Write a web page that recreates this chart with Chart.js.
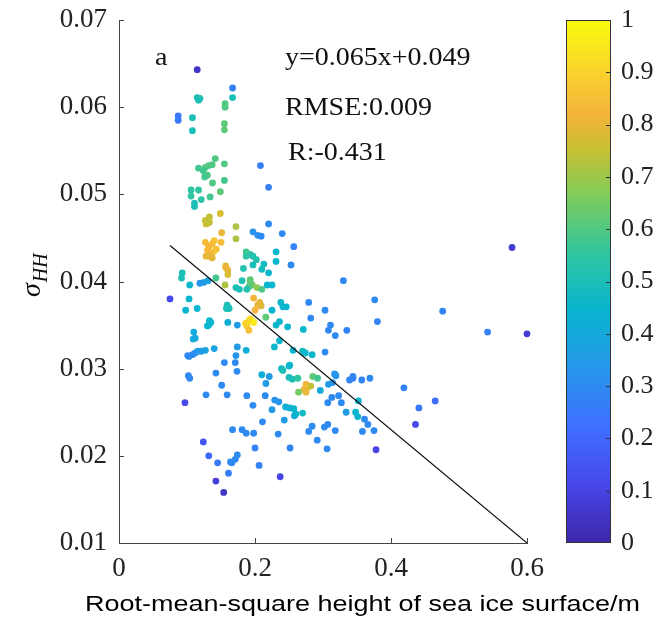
<!DOCTYPE html>
<html>
<head>
<meta charset="utf-8">
<script src="https://cdn.jsdelivr.net/npm/chart.js@4/dist/chart.umd.min.js"></script>
<style>
  html, body { margin: 0; padding: 0; background: #fff; }
  #wrap { width: 659px; height: 623px; }
</style>
</head>
<body>
<div id="wrap"><canvas id="scatter" width="659" height="623"></canvas></div>
<script>
// sample points: roughness (m), backscatter sigma_HH, colour value (0..1)
const roughX = [
  0.115, 0.167, 0.167, 0.115, 0.119, 0.117, 0.156, 0.156, 0.087, 0.087, 0.108, 0.108, 0.155, 0.155,
  0.1415, 0.117, 0.127, 0.132, 0.124, 0.130, 0.126, 0.137, 0.155, 0.208, 0.1375, 0.155, 0.220,
  0.106, 0.117, 0.106, 0.121, 0.134, 0.111, 0.111, 0.149, 0.149, 0.133,
  0.127, 0.133, 0.128, 0.131, 0.172, 0.151, 0.172, 0.220, 0.197, 0.204, 0.209, 0.240, 0.257,
  0.127, 0.140, 0.137, 0.132, 0.143, 0.130, 0.139, 0.134, 0.132, 0.137, 0.128, 0.150,
  0.187, 0.193, 0.197, 0.187, 0.202, 0.231, 0.231, 0.253, 0.197, 0.183, 0.210, 0.213, 0.220,
  0.157, 0.160, 0.160, 0.157, 0.093, 0.092, 0.1425, 0.181, 0.193, 0.196, 0.191, 0.193,
  0.119, 0.125, 0.131, 0.104, 0.156, 0.172, 0.177, 0.188, 0.203, 0.210, 0.218, 0.225,
  0.075, 0.103, 0.198, 0.207, 0.209, 0.204, 0.238, 0.241, 0.246, 0.115, 0.098,
  0.159, 0.160, 0.162, 0.158, 0.200, 0.225, 0.216,
  0.190, 0.195, 0.193, 0.188, 0.191, 0.186, 0.198,
  0.133, 0.135, 0.130, 0.132, 0.174, 0.160, 0.231, 0.236, 0.248, 0.110, 0.112, 0.109,
  0.140, 0.127, 0.121, 0.116, 0.112, 0.108, 0.103, 0.101, 0.174, 0.172, 0.187, 0.2285,
  0.155, 0.171, 0.251,
  0.102, 0.104, 0.1425, 0.1735, 0.210, 0.221, 0.216, 0.239, 0.241, 0.250, 0.250, 0.255,
  0.151, 0.097, 0.128, 0.159, 0.188, 0.215, 0.197, 0.229, 0.235, 0.225,
  0.245, 0.251, 0.243, 0.258, 0.211, 0.167, 0.181, 0.187, 0.198, 0.234,
  0.124, 0.132, 0.145, 0.164, 0.166, 0.171, 0.174, 0.161, 0.200, 0.206, 0.2516, 0.237, 0.1425, 0.154,
  0.330, 0.578, 0.376, 0.279, 0.303, 0.476, 0.282, 0.380, 0.271, 0.311, 0.308, 0.318, 0.335,
  0.542, 0.600, 0.236, 0.256, 0.270, 0.274, 0.284, 0.303, 0.318, 0.344, 0.369,
  0.263, 0.285, 0.292, 0.275, 0.277, 0.272, 0.282, 0.275, 0.264, 0.296,
  0.317, 0.319, 0.308, 0.314, 0.339, 0.344, 0.357, 0.419, 0.465, 0.441, 0.436,
  0.323, 0.313, 0.307, 0.327, 0.352, 0.257, 0.260, 0.270, 0.334, 0.348, 0.351, 0.361, 0.366,
  0.284, 0.279, 0.2915, 0.302, 0.307, 0.318, 0.358, 0.375, 0.306, 0.378
];
const sigmaHH = [
  0.0643, 0.0622, 0.0611, 0.0611, 0.0610, 0.0608, 0.0604, 0.0600, 0.0590, 0.0585, 0.0588, 0.0573, 0.0581, 0.0574,
  0.0541, 0.0530, 0.0531, 0.0533, 0.0527, 0.0522, 0.0520, 0.0534, 0.0535, 0.0533, 0.0513, 0.0516, 0.0508,
  0.0505, 0.0505, 0.0498, 0.0494, 0.0497, 0.0490, 0.0486, 0.0503, 0.0478, 0.0474,
  0.0470, 0.0468, 0.0466, 0.0467, 0.0463, 0.0456, 0.0449, 0.0466, 0.0457, 0.0453, 0.0452, 0.0455, 0.0440,
  0.0445, 0.0447, 0.0443, 0.0440, 0.0437, 0.0436, 0.0434, 0.0431, 0.0429, 0.0427, 0.0429, 0.0445,
  0.0434, 0.0431, 0.0429, 0.0429, 0.0425, 0.0434, 0.0423, 0.0419, 0.0419, 0.0415, 0.0414, 0.0420, 0.0410,
  0.0418, 0.0413, 0.0408, 0.0416, 0.0410, 0.0404, 0.0404, 0.0401, 0.0402, 0.0396, 0.0394, 0.0399,
  0.0398, 0.0399, 0.0401, 0.0396, 0.0396, 0.0393, 0.0391, 0.0391, 0.0393, 0.0391, 0.0396, 0.0396,
  0.0380, 0.0380, 0.0381, 0.0376, 0.0372, 0.0373, 0.0376, 0.0371, 0.0371, 0.0369, 0.0367,
  0.0373, 0.0371, 0.0369, 0.0369, 0.0367, 0.0367, 0.0359,
  0.0354, 0.0355, 0.0357, 0.0349, 0.0344, 0.0352, 0.0353,
  0.0355, 0.0353, 0.0349, 0.0350, 0.0350, 0.0353, 0.0350, 0.0354, 0.0348, 0.0342, 0.0335, 0.0334,
  0.0323, 0.0321, 0.0320, 0.0320, 0.0318, 0.0316, 0.0314, 0.0315, 0.0325, 0.0315, 0.0321, 0.0325,
  0.0307, 0.0307, 0.0304,
  0.0292, 0.0289, 0.0295, 0.0297, 0.0293, 0.0291, 0.0283, 0.0300, 0.0298, 0.0303, 0.0290, 0.0288,
  0.0281, 0.0261, 0.0270, 0.0270, 0.0269, 0.0269, 0.0258, 0.0264, 0.0262, 0.0253,
  0.0256, 0.0255, 0.0241, 0.0246, 0.0239, 0.0230, 0.0230, 0.0226, 0.0226, 0.0225,
  0.0216, 0.0200, 0.0192, 0.0193, 0.0192, 0.0196, 0.0201, 0.0180, 0.0209, 0.0189, 0.0209, 0.0176, 0.0171, 0.0158,
  0.0401, 0.0439, 0.0379, 0.0376, 0.0367, 0.0366, 0.0358, 0.0354, 0.0345, 0.0350, 0.0344, 0.0338, 0.0344,
  0.0342, 0.0340, 0.0332, 0.0321, 0.0320, 0.0318, 0.0316, 0.0319, 0.0293, 0.0291, 0.0289,
  0.0289, 0.0291, 0.0289, 0.0282, 0.0278, 0.0276, 0.0280, 0.0273, 0.0273, 0.0275,
  0.0294, 0.0292, 0.0282, 0.0284, 0.0287, 0.0289, 0.0287, 0.0278, 0.0263, 0.0255, 0.0236,
  0.0269, 0.0267, 0.0261, 0.0261, 0.0263, 0.0254, 0.0248, 0.0249, 0.0250, 0.0250, 0.0245, 0.0242, 0.0236,
  0.0234, 0.0228, 0.0218, 0.0233, 0.0236, 0.0229, 0.0228, 0.0229, 0.0208, 0.0207
];
const colorVal = [
  0.05, 0.27, 0.50, 0.50, 0.52, 0.50, 0.60, 0.60, 0.25, 0.25, 0.50, 0.50, 0.62, 0.62,
  0.60, 0.58, 0.60, 0.60, 0.58, 0.60, 0.58, 0.60, 0.60, 0.27, 0.60, 0.58, 0.27,
  0.55, 0.55, 0.55, 0.55, 0.58, 0.50, 0.50, 0.62, 0.78, 0.75,
  0.75, 0.75, 0.76, 0.74, 0.72, 0.80, 0.72, 0.30, 0.33, 0.32, 0.30, 0.30, 0.28,
  0.84, 0.86, 0.85, 0.83, 0.85, 0.84, 0.86, 0.82, 0.80, 0.80, 0.80, 0.84,
  0.58, 0.55, 0.52, 0.55, 0.52, 0.45, 0.45, 0.30, 0.50, 0.52, 0.48, 0.48, 0.45,
  0.78, 0.80, 0.78, 0.80, 0.50, 0.50, 0.58, 0.52, 0.62, 0.65, 0.60, 0.62,
  0.33, 0.35, 0.38, 0.45, 0.72, 0.50, 0.50, 0.52, 0.68, 0.60, 0.45, 0.45,
  0.12, 0.45, 0.82, 0.80, 0.78, 0.80, 0.45, 0.45, 0.45, 0.45, 0.45,
  0.50, 0.50, 0.50, 0.50, 0.82, 0.45, 0.62,
  0.95, 0.97, 0.92, 0.88, 0.85, 0.90, 0.96,
  0.45, 0.45, 0.45, 0.45, 0.35, 0.42, 0.45, 0.45, 0.45, 0.40, 0.40, 0.40,
  0.38, 0.38, 0.35, 0.35, 0.33, 0.30, 0.30, 0.30, 0.35, 0.33, 0.42, 0.45,
  0.30, 0.30, 0.45,
  0.30, 0.30, 0.30, 0.30, 0.42, 0.35, 0.35, 0.48, 0.50, 0.45, 0.50, 0.50,
  0.30, 0.12, 0.30, 0.30, 0.30, 0.30, 0.30, 0.33, 0.33, 0.35,
  0.42, 0.42, 0.35, 0.40, 0.30, 0.30, 0.30, 0.30, 0.30, 0.30,
  0.15, 0.20, 0.25, 0.30, 0.30, 0.30, 0.30, 0.27, 0.28, 0.28, 0.28, 0.10, 0.08, 0.05,
  0.30, 0.07, 0.30, 0.30, 0.30, 0.28, 0.30, 0.28, 0.45, 0.30, 0.30, 0.30, 0.28,
  0.28, 0.07, 0.45, 0.45, 0.48, 0.45, 0.45, 0.30, 0.40, 0.30, 0.30,
  0.55, 0.62, 0.58, 0.82, 0.85, 0.80, 0.75, 0.80, 0.65, 0.40,
  0.33, 0.33, 0.35, 0.33, 0.28, 0.28, 0.28, 0.28, 0.22, 0.25, 0.12,
  0.30, 0.30, 0.30, 0.30, 0.45, 0.45, 0.45, 0.48, 0.35, 0.45, 0.45, 0.30, 0.30,
  0.30, 0.30, 0.30, 0.30, 0.30, 0.30, 0.30, 0.30, 0.30, 0.10
];

// fitted line, drawn over the x range it covers
const fitSlope = -0.065;
const fitIntercept = 0.049;
const fitRange = [0.075, 0.6];

const xTicks = [0, 0.2, 0.4, 0.6];
const yTicks = [0.01, 0.02, 0.03, 0.04, 0.05, 0.06, 0.07];
const cbarTicks = [0, 0.1, 0.2, 0.3, 0.4, 0.5, 0.6, 0.7, 0.8, 0.9, 1];

// parula-like colormap stops
const cmap = [
  [0.000, 62, 38, 168],
  [0.111, 71, 71, 235],
  [0.222, 62, 111, 255],
  [0.333, 39, 150, 235],
  [0.444, 8, 181, 208],
  [0.556, 49, 198, 159],
  [0.667, 129, 204, 89],
  [0.760, 205, 190, 50],
  [0.820, 245, 180, 60],
  [0.900, 250, 210, 45],
  [1.000, 249, 251, 14]
];

function colorAt(v) {
  v = Math.max(0, Math.min(1, v));
  for (let i = 1; i < cmap.length; i++) {
    if (v <= cmap[i][0]) {
      const a = cmap[i - 1], b = cmap[i];
      const t = (v - a[0]) / (b[0] - a[0]);
      const c = [1, 2, 3].map(k => Math.round(a[k] + (b[k] - a[k]) * t));
      return `rgb(${c[0]},${c[1]},${c[2]})`;
    }
  }
  return "rgb(249,251,14)";
}

const points = roughX.map((x, i) => ({ x: x, y: sigmaHH[i] }));
const pointColors = colorVal.map(colorAt);
const fitLine = fitRange.map(x => ({ x: x, y: fitSlope * x + fitIntercept }));

const SERIF = "'Liberation Serif', 'Times New Roman', serif";
const STRETCH = 1.12;

function stretchedText(ctx, text, x, y, font, sx) {
  ctx.save();
  ctx.font = font;
  ctx.textBaseline = "middle";
  ctx.textAlign = "left";
  ctx.translate(x, y);
  ctx.scale(sx, 1);
  ctx.fillText(text, 0, 0);
  ctx.restore();
}

const decorations = {
  id: "decorations",
  afterDraw(chart) {
    const ctx = chart.ctx;
    const xs = chart.scales.x, ys = chart.scales.y;
    const area = chart.chartArea;

    // inward tick marks
    ctx.save();
    ctx.strokeStyle = "#444";
    ctx.lineWidth = 1;
    ctx.beginPath();
    yTicks.forEach(v => {
      const py = Math.round(ys.getPixelForValue(v)) + 0.5;
      ctx.moveTo(area.left, py);
      ctx.lineTo(area.left + 5, py);
    });
    xTicks.forEach(v => {
      if (v === 0) return;
      const px = Math.round(xs.getPixelForValue(v)) + 0.5;
      ctx.moveTo(px, area.bottom);
      ctx.lineTo(px, area.bottom - 5);
    });
    ctx.stroke();
    ctx.restore();

    // colorbar
    const cbL = 566, cbR = 611, cbT = area.top, cbB = area.bottom;
    const grad = ctx.createLinearGradient(0, cbB, 0, cbT);
    cmap.forEach(s => grad.addColorStop(s[0], `rgb(${s[1]},${s[2]},${s[3]})`));
    ctx.save();
    ctx.fillStyle = grad;
    ctx.fillRect(cbL, cbT, cbR - cbL, cbB - cbT);
    ctx.strokeStyle = "#333";
    ctx.lineWidth = 1;
    ctx.strokeRect(cbL + 0.5, cbT + 0.5, cbR - cbL - 1, cbB - cbT - 1);
    ctx.beginPath();
    cbarTicks.forEach(v => {
      const py = Math.round(cbB - v * (cbB - cbT)) + 0.5;
      if (v > 0 && v < 1) {
        ctx.moveTo(cbR - 5, py);
        ctx.lineTo(cbR, py);
      }
    });
    ctx.stroke();
    ctx.fillStyle = "#222";
    ctx.font = "26px " + SERIF;
    ctx.textAlign = "left";
    ctx.textBaseline = "middle";
    cbarTicks.forEach(v => {
      const py = cbB - v * (cbB - cbT);
      ctx.fillText(v === 0 ? "0" : v === 1 ? "1" : v.toFixed(1), 621, py);
    });
    ctx.restore();

    // annotations
    ctx.save();
    ctx.fillStyle = "#111";
    const f = "25px " + SERIF;
    stretchedText(ctx, "a", 155, 58, f, STRETCH);
    stretchedText(ctx, "y=0.065x+0.049", 285, 58, f, STRETCH);
    stretchedText(ctx, "RMSE:0.009", 285, 108, f, STRETCH);
    stretchedText(ctx, "R:-0.431", 288, 153, f, STRETCH);
    ctx.restore();

    // y-axis title: sigma with HH subscript, rotated
    ctx.save();
    ctx.fillStyle = "#111";
    ctx.translate(40, 297);
    ctx.rotate(-Math.PI / 2);
    ctx.textBaseline = "alphabetic";
    ctx.textAlign = "left";
    ctx.font = "italic 28px " + SERIF;
    ctx.fillText("σ", 0, 0);
    const sw = ctx.measureText("σ").width;
    ctx.font = "italic 20px " + SERIF;
    ctx.fillText("HH", sw + 1, 7);
    ctx.restore();

    // x-axis title
    ctx.save();
    ctx.fillStyle = "#000";
    ctx.font = "22px 'Liberation Sans', Arial, sans-serif";
    const title = "Root-mean-square height of sea ice surface/m";
    const tw = ctx.measureText(title).width;
    const sx = 555 / tw;
    ctx.textBaseline = "middle";
    ctx.textAlign = "left";
    ctx.translate(85, 605);
    ctx.scale(sx, 1);
    ctx.fillText(title, 0, 0);
    ctx.restore();
  }
};

new Chart(document.getElementById("scatter"), {
  type: "scatter",
  data: {
    datasets: [
      {
        type: "line",
        data: fitLine,
        borderColor: "#111",
        borderWidth: 1.2,
        pointRadius: 0,
        fill: false,
        order: 0
      },
      {
        data: points,
        backgroundColor: pointColors,
        borderWidth: 0,
        pointRadius: 3.4,
        pointHoverRadius: 3.4,
        clip: false,
        order: 1
      }
    ]
  },
  options: {
    responsive: false,
    animation: false,
    devicePixelRatio: 1,
    layout: { padding: { left: 0, top: 20, right: 132, bottom: 0 } },
    plugins: {
      legend: { display: false },
      tooltip: { enabled: false }
    },
    scales: {
      x: {
        type: "linear",
        min: 0,
        max: 0.6,
        afterFit: s => { s.height = 80; s.paddingLeft = 0; s.paddingRight = 0; },
        afterBuildTicks: s => { s.ticks = xTicks.map(v => ({ value: v })); },
        ticks: {
          padding: 10,
          color: "#222",
          font: { family: SERIF, size: 27 },
          callback: v => (v === 0 ? "0" : v.toFixed(1))
        },
        grid: { drawOnChartArea: false, drawTicks: false },
        border: { display: true, color: "#444", width: 1 }
      },
      y: {
        type: "linear",
        min: 0.01,
        max: 0.07,
        afterFit: s => { s.width = 119; s.paddingTop = 0; s.paddingBottom = 0; },
        afterBuildTicks: s => { s.ticks = yTicks.map(v => ({ value: v })); },
        ticks: {
          padding: 12,
          color: "#222",
          font: { family: SERIF, size: 27 },
          callback: v => v.toFixed(2)
        },
        grid: { drawOnChartArea: false, drawTicks: false },
        border: { display: true, color: "#444", width: 1 }
      }
    }
  },
  plugins: [decorations]
});
</script>
</body>
</html>
